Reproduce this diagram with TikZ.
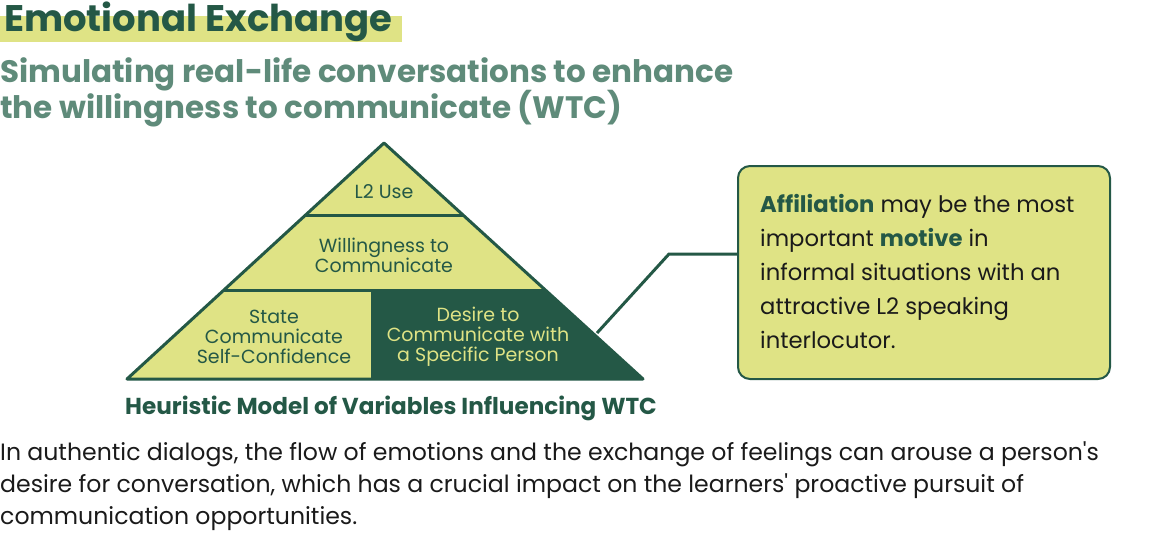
\documentclass[tikz,border=0pt]{standalone}
\usepackage{fontspec}
\setmainfont{Poppins}
\newfontfamily\pop{Poppins}
\definecolor{dkgreen}{HTML}{245846}
\definecolor{ylw}{HTML}{DFE385}
\definecolor{subgreen}{HTML}{5F8B7A}
\definecolor{txt}{HTML}{1A1A1A}
\tikzset{
  tier/.style={font=\fontsize{19}{20}\selectfont, text=dkgreen, align=center, inner sep=0pt},
  tierdark/.style={tier, text=ylw},
  line/.style={anchor=base west, inner sep=0pt},
  pyrline/.style={draw=dkgreen, line width=3pt, line join=round},
}
\begin{document}
\begin{tikzpicture}[x=1pt,y=-1pt]
\useasboundingbox (0,0) rectangle (1172,533);
% title
\fill[ylw] (0,16) rectangle (402,42);
\node[line, text=dkgreen, font=\fontsize{37}{44}\selectfont\bfseries] (title) at (4,31) {Emotional Exchange};
% subtitle
\node[line, text=subgreen, font=\fontsize{31}{36}\selectfont\bfseries] (sub1) at (0,82) {Simulating real-life conversations to enhance};
\node[line, text=subgreen, font=\fontsize{31}{36}\selectfont\bfseries] (sub2) at (0,118) {the willingness to communicate (WTC)};
% pyramid
\coordinate (apex) at (384,143);
\coordinate (bl) at (127,379);
\coordinate (br) at (643,379);
\coordinate (t1l) at (305.6,215);
\coordinate (t1r) at (463.0,215);
\coordinate (t2l) at (223.9,290);
\coordinate (t2r) at (545.3,290);
\coordinate (split) at (372,290);
\coordinate (splitb) at (372,379);
\fill[ylw] (apex) -- (bl) -- (br) -- cycle;
\fill[dkgreen] (split) -- (t2r) -- (br) -- (splitb) -- cycle;
\draw[pyrline] (apex) -- (bl) -- (br) -- cycle;
\draw[pyrline] (t1l) -- (t1r);
\draw[pyrline] (t2l) -- (t2r);
\draw[pyrline] (split) -- (splitb);
\node[tier] (l2) at (384,192) {L2 Use};
\node[tier] (wtc) at (384,255) {Willingness to\\Communicate};
\node[tier] (scsc) at (274,337) {State\\Communicate\\Self-Confidence};
\node[tierdark] (dcsp) at (478,337) {Desire to\\Communicate with\\a Specific Person};
\node[text=dkgreen, font=\fontsize{23.1}{26}\selectfont\bfseries, inner sep=0pt] (cap) at (391,408) {Heuristic Model of Variables Influencing WTC};
% callout
\node[draw=dkgreen, line width=2pt, fill=ylw, rounded corners=12pt, minimum width=372pt, minimum height=213pt, anchor=north west, inner sep=0pt] (box) at (737,165) {};
\coordinate (tip) at (597,333);
\coordinate (bend) at (669,254);
\draw[draw=dkgreen, line width=3pt] (tip) -- (bend) -- (box.west |- bend);
\begin{scope}[font=\fontsize{22.7}{26}\selectfont, text=txt]
\node[line] (c1) at (760,212) {\textcolor{dkgreen}{\bfseries Affiliation} may be the most};
\node[line] (c2) at (760,246) {important \textcolor{dkgreen}{\bfseries motive} in};
\node[line] (c3) at (760,280) {informal situations with an};
\node[line] (c4) at (760,314) {attractive L2 speaking};
\node[line] (c5) at (760,348) {interlocutor.};
\end{scope}
% paragraph
\begin{scope}[font=\pop\fontsize{23.6}{28}\selectfont, text=txt]
\node[line] (p1) at (0,460) {In authentic dialogs, the flow of emotions and the exchange of feelings can arouse a person's};
\node[line] (p2) at (0,492) {desire for conversation, which has a crucial impact on the learners' proactive pursuit of};
\node[line] (p3) at (0,524) {communication opportunities.};
\end{scope}
\end{tikzpicture}
\end{document}
